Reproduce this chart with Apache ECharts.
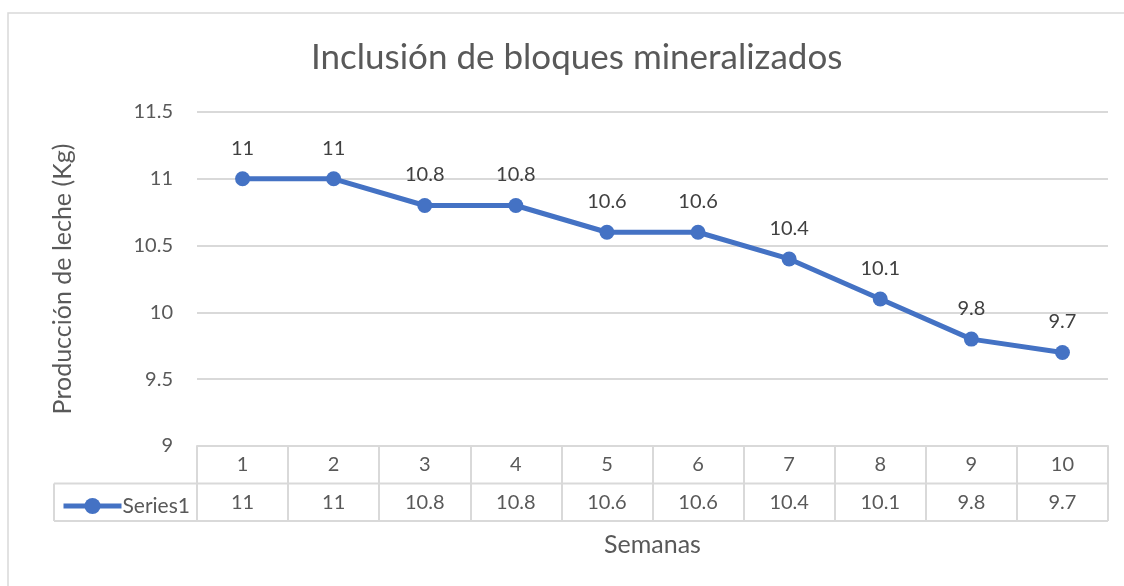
<!DOCTYPE html>
<html><head><meta charset="utf-8">
<script src="https://cdn.jsdelivr.net/npm/echarts@6/dist/echarts.min.js"></script>
<style>html,body{margin:0;padding:0;background:#fff}#c{width:1124px;height:586px}</style>
</head><body><div id="c"></div>
<script>
const categories = ['1','2','3','4','5','6','7','8','9','10'];
const values = [11, 11, 10.8, 10.8, 10.6, 10.6, 10.4, 10.1, 9.8, 9.7];
const seriesName = 'Series1';
const yTicks = {min: 9, max: 11.5, interval: 0.5};

const FONT = 'Lato';
const TXT = '#595959';
const GRIDC = '#d9d9d9';
const G = {left: 197, right: 16, top: 112, bottom: 140};
const W = 1124;
const rowH = 37.5;
const axisY = 586 - G.bottom;
const tblLeft = 54;
const tblRight = W - G.right;

const chart = echarts.init(document.getElementById('c'), null, {renderer: 'canvas'});
chart.setOption({
  animation: false,
  textStyle: {fontFamily: FONT},
  title: {
    text: 'Inclusión de bloques mineralizados',
    left: 306, top: 35,
    textStyle: {fontFamily: FONT, fontSize: 35, fontWeight: 'normal', color: TXT}
  },
  legend: {
    left: tblLeft + 2, top: axisY + rowH + 7,
    itemWidth: 58, itemHeight: 20, itemGap: 4,
    lineStyle: {width: 5},
    textStyle: {fontFamily: FONT, fontSize: 21, color: TXT, padding: [0,0,0,-4]},
    data: [seriesName]
  },
  grid: {left: G.left, right: G.right, top: G.top, bottom: G.bottom, containLabel: false},
  xAxis: [{
    type: 'category', data: categories, boundaryGap: true, position: 'bottom',
    axisLine: {show: true, lineStyle: {color: GRIDC, width: 2}},
    axisTick: {show: true, length: rowH * 2, lineStyle: {color: GRIDC, width: 2}, alignWithLabel: false},
    axisLabel: {fontFamily: FONT, fontSize: 20, color: TXT, margin: 9, interval: 0},
    splitLine: {show: false}
  }, {
    type: 'category', data: values.map(v => String(v)), boundaryGap: true, position: 'bottom',
    offset: rowH,
    axisLine: {show: false}, axisTick: {show: false},
    axisLabel: {fontFamily: FONT, fontSize: 20, color: TXT, margin: 9, interval: 0},
    name: 'Semanas', nameLocation: 'middle', nameGap: 49,
    nameTextStyle: {fontFamily: FONT, fontSize: 25, color: TXT}
  }],
  yAxis: {
    type: 'value', min: yTicks.min, max: yTicks.max, interval: yTicks.interval,
    axisLine: {show: false}, axisTick: {show: false},
    axisLabel: {fontFamily: FONT, fontSize: 20, color: TXT, margin: 24},
    splitLine: {show: true, lineStyle: {color: GRIDC, width: 2}},
    name: 'Producción de leche (Kg)', nameLocation: 'middle', nameRotate: 90, nameGap: 122,
    nameTextStyle: {fontFamily: FONT, fontSize: 25, color: TXT}
  },
  series: [{
    name: seriesName, type: 'line', xAxisIndex: 0, data: values,
    symbol: 'circle', symbolSize: 15,
    lineStyle: {color: '#4472C4', width: 5},
    itemStyle: {color: '#4472C4'},
    label: {show: true, position: 'top', distance: 13, fontFamily: FONT, fontSize: 20, color: '#404040'}
  }],
  graphic: [
    {type: 'rect', shape: {x: 8, y: 13, width: 1200, height: 700}, style: {fill: 'none', stroke: GRIDC, lineWidth: 1.5}, silent: true},
    {type: 'line', shape: {x1: tblLeft, y1: axisY + rowH, x2: tblRight, y2: axisY + rowH}, style: {stroke: GRIDC, lineWidth: 2}},
    {type: 'line', shape: {x1: tblLeft, y1: axisY + rowH * 2, x2: tblRight, y2: axisY + rowH * 2}, style: {stroke: GRIDC, lineWidth: 2}},
    {type: 'line', shape: {x1: tblLeft, y1: axisY + rowH, x2: tblLeft, y2: axisY + rowH * 2}, style: {stroke: GRIDC, lineWidth: 2}}
  ]
});
</script></body></html>
